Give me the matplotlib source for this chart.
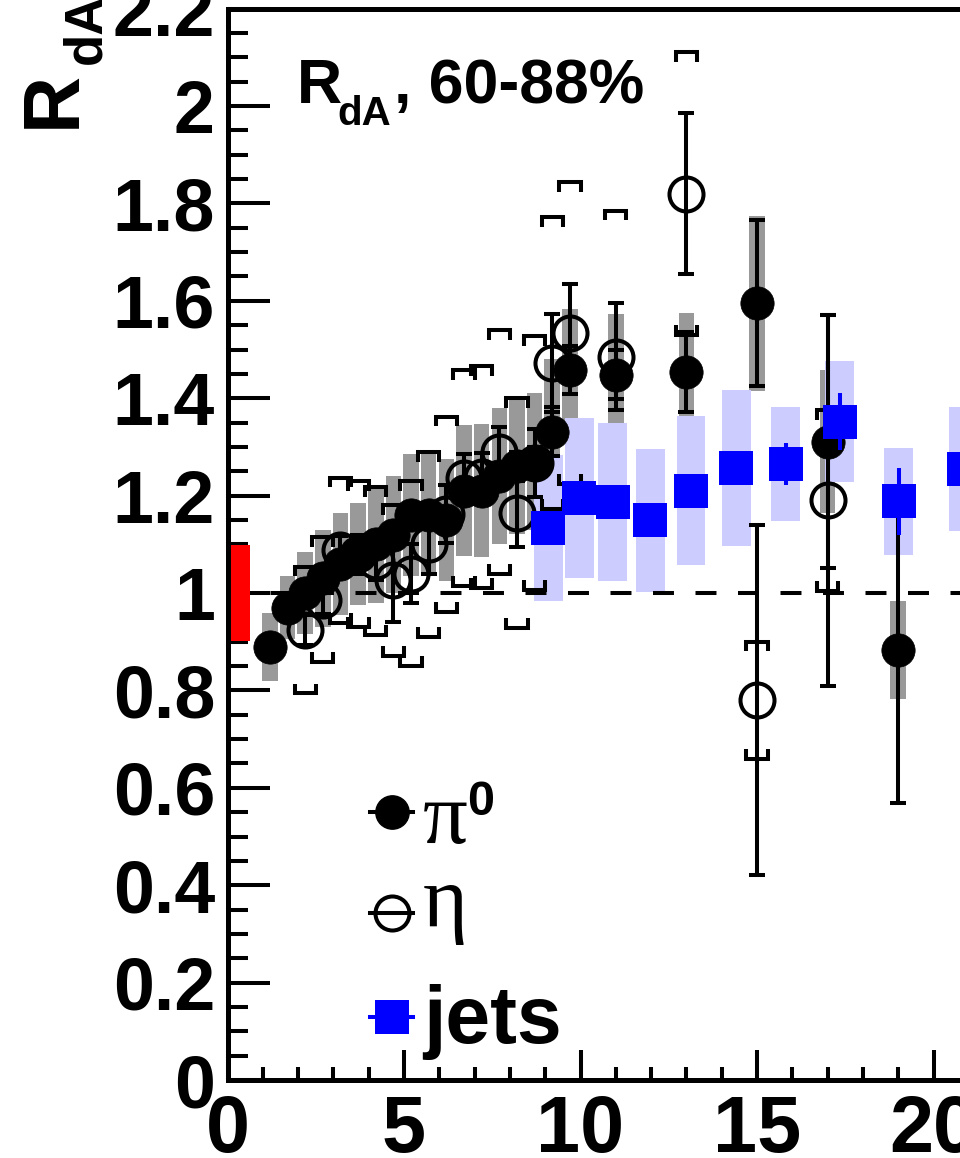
import matplotlib
matplotlib.use("Agg")
import matplotlib.pyplot as plt
from matplotlib.ticker import MultipleLocator, FuncFormatter
import numpy as np

plt.rcParams['font.family'] = ['Liberation Sans', 'DejaVu Sans']
plt.rcParams['font.weight'] = 'bold'
plt.rcParams['lines.scale_dashes'] = False

# pi0 R_dA, 60-88%
pi0_pt = [1.2, 1.7, 2.2, 2.7, 3.2, 3.7, 4.2, 4.7, 5.2, 5.7, 6.2, 6.7, 7.2, 7.7,
          8.2, 8.7, 9.2, 9.7, 11.0, 13.0, 15.0, 17.0, 19.0]
pi0_r = [0.889, 0.970, 1.000, 1.030, 1.060, 1.080, 1.100, 1.120, 1.160, 1.160,
         1.150, 1.210, 1.210, 1.240, 1.260, 1.270, 1.331, 1.458, 1.448, 1.454,
         1.595, 1.311, 0.883]
pi0_stat = [0.01, 0.01, 0.01, 0.01, 0.01, 0.01, 0.01, 0.015, 0.015, 0.015,
            0.02, 0.02, 0.02, 0.025, 0.03, 0.03, 0.05, 0.05, 0.05, 0.082,
            0.17, 0.26, 0.314]
pi0_sys = [0.07, 0.065, 0.085, 0.10, 0.105, 0.105, 0.12, 0.12, 0.125, 0.125,
           0.125, 0.135, 0.137, 0.14, 0.138, 0.14, 0.15, 0.125, 0.125, 0.12,
           0.18, 0.147, 0.10]

# eta
eta_pt = [2.2, 2.7, 3.2, 3.7, 4.2, 4.7, 5.2, 5.7, 6.2, 6.7, 7.2, 7.7, 8.2, 8.7,
          9.2, 9.7, 11.0, 13.0, 15.0, 17.0]
eta_r = [0.924, 0.986, 1.088, 1.080, 1.066, 1.026, 1.040, 1.100, 1.162, 1.236,
         1.238, 1.290, 1.164, 1.267, 1.472, 1.534, 1.485, 1.820, 0.780, 1.190]
eta_stat = [0.03, 0.03, 0.03, 0.04, 0.04, 0.085, 0.06, 0.06, 0.06, 0.05,
            0.05, 0.05, 0.07, 0.07, 0.10, 0.10, 0.11, 0.165, 0.36, 0.38]
eta_sys = [0.130, 0.128, 0.149, 0.150, 0.152, 0.155, 0.190, 0.190, 0.200, 0.222,
           0.228, 0.250, 0.236, 0.260, 0.300, 0.310, 0.300, 0.290, 0.120, 0.186]

# jets
jet_pt = [9.09, 9.96, 10.91, 11.97, 13.13, 14.41, 15.82, 17.35, 19.02, 20.85]
jet_r = [1.133, 1.195, 1.187, 1.149, 1.210, 1.257, 1.265, 1.352, 1.188, 1.255]
jet_stat = [0.02, 0.02, 0.02, 0.025, 0.03, 0.035, 0.043, 0.058, 0.068, 0.07]
jet_sys = [0.150, 0.165, 0.163, 0.146, 0.153, 0.160, 0.117, 0.125, 0.110, 0.127]

norm_unc = 0.098

W, H = 960, 1158
fig = plt.figure(figsize=(W / 100, H / 100), dpi=100)
x0, y0 = 227.5, 1080
px_per_x, px_per_y = 35.3, 487
xmax, ymax = 25, 2.2
ax = fig.add_axes([x0 / W, (H - y0) / H, xmax * px_per_x / W, ymax * px_per_y / H])
ax.set_xlim(0, xmax)
ax.set_ylim(0, ymax)

lw = 2.9

pt, r, st, sy = map(np.array, (jet_pt, jet_r, jet_stat, jet_sys))
ax.bar(pt, 2 * sy, bottom=r - sy, width=0.82, color='#ccccff', zorder=2)
pp, pr, ps, pys = map(np.array, (pi0_pt, pi0_r, pi0_stat, pi0_sys))
ax.bar(pp, 2 * pys, bottom=pr - pys, width=0.44, color='#999999', zorder=1)

ax.axhline(1, color='k', lw=lw, dashes=(15.1, 15.5), zorder=3)
ax.bar(0.34, 2 * norm_unc, bottom=1 - norm_unc, width=0.62, color='red', zorder=3.5)

# eta sys brackets
ep, er, es, esy = map(np.array, (eta_pt, eta_r, eta_stat, eta_sys))
bw, bt = 0.30, 0.02
for x, y, s in zip(ep, er, esy):
    ax.plot([x - bw, x - bw, x + bw, x + bw], [y + s - bt, y + s, y + s, y + s - bt],
            color='k', lw=lw, solid_joinstyle='miter', solid_capstyle='butt', zorder=3.8)
    ax.plot([x - bw, x - bw, x + bw, x + bw], [y - s + bt, y - s, y - s, y - s + bt],
            color='k', lw=lw, solid_joinstyle='miter', solid_capstyle='butt', zorder=3.8)

ax.errorbar(ep, er, yerr=es, fmt='none', ecolor='k', elinewidth=lw,
            capsize=6.1, capthick=lw, zorder=4)
ax.plot(ep, er, 'o', ms=24.5, mfc='none', mec='k', mew=lw, zorder=5)

ax.errorbar(pp, pr, yerr=ps, fmt='none', ecolor='k', elinewidth=lw,
            capsize=6.1, capthick=lw, zorder=6)
ax.plot(pp, pr, 'o', ms=24, mfc='k', mec='k', mew=0.5, zorder=7)

ax.errorbar(pt, r, yerr=st, fmt='none', ecolor='#0000ff', elinewidth=lw, zorder=8)
ax.plot(pt, r, 's', ms=23.8, mfc='#0000ff', mec='#0000ff', mew=0, zorder=9)

# axes styling
for sp in ax.spines.values():
    sp.set_linewidth(3.6)
    sp.set_zorder(10)
ax.xaxis.set_major_locator(MultipleLocator(5))
ax.xaxis.set_minor_locator(MultipleLocator(1))
ax.yaxis.set_major_locator(MultipleLocator(0.2))
ax.yaxis.set_minor_locator(MultipleLocator(0.05))
ax.yaxis.set_major_formatter(FuncFormatter(lambda v, p: '%g' % round(v, 2)))
ax.tick_params(axis='y', which='major', direction='in', length=30, width=2.9,
               labelsize=53, pad=9)
ax.tick_params(axis='y', which='minor', direction='in', length=14.4, width=2.9)
ax.tick_params(axis='x', which='major', direction='in', length=21.6, width=2.9,
               labelsize=57, pad=10)
ax.tick_params(axis='x', which='minor', direction='in', length=9.4, width=2.9)

def fx(px):
    return px / W

def fy(py):
    return 1 - py / H

# y axis title
fig.text(fx(75), fy(128), 'R', fontsize=57, rotation=90, rotation_mode='anchor',
         ha='left', va='baseline')
fig.text(fx(100), fy(64), 'dA', fontsize=38, rotation=90, rotation_mode='anchor',
         ha='left', va='baseline')

# label in frame
fig.text(fx(297), fy(103), 'R', fontsize=45, ha='left', va='baseline')
fig.text(fx(337), fy(125), 'dA', fontsize=29, ha='left', va='baseline')
fig.text(fx(394), fy(103), ', 60-88%', fontsize=45, ha='left', va='baseline')

# legend
lx0, lx1, lxm = (370 - x0) / (xmax * px_per_x), (413 - x0) / (xmax * px_per_x), (392 - x0) / (xmax * px_per_x)
ly = [(y0 - 812) / (ymax * px_per_y), (y0 - 913) / (ymax * px_per_y), (y0 - 1017) / (ymax * px_per_y)]
ax.plot([lx0, lx1], [ly[0]] * 2, color='k', lw=lw, transform=ax.transAxes, zorder=6)
ax.plot([lxm], [ly[0]], 'o', ms=24, mfc='k', mec='k', transform=ax.transAxes, zorder=7)
ax.plot([lx0, lx1], [ly[1]] * 2, color='k', lw=lw, transform=ax.transAxes, zorder=6)
ax.plot([lxm], [ly[1]], 'o', ms=24.5, mfc='none', mec='k', mew=lw, transform=ax.transAxes, zorder=7)
ax.plot([lx0, lx1], [ly[2]] * 2, color='#0000ff', lw=lw, transform=ax.transAxes, zorder=8)
ax.plot([lxm], [ly[2]], 's', ms=23.8, mfc='#0000ff', mec='#0000ff', mew=0,
        transform=ax.transAxes, zorder=9)

fig.text(fx(423), fy(843), '\u03c0', fontsize=64, family=['Liberation Serif', 'DejaVu Serif'],
         fontweight='normal', ha='left', va='baseline')
fig.text(fx(467), fy(815), '0', fontsize=35, ha='left', va='baseline')
fig.text(fx(423), fy(926), '\u03b7', fontsize=62, family=['Liberation Serif', 'DejaVu Serif'],
         fontweight='normal', ha='left', va='baseline')
fig.text(fx(423), fy(1043), 'jets', fontsize=58, ha='left', va='baseline')

fig.savefig('out.png', dpi=100)
